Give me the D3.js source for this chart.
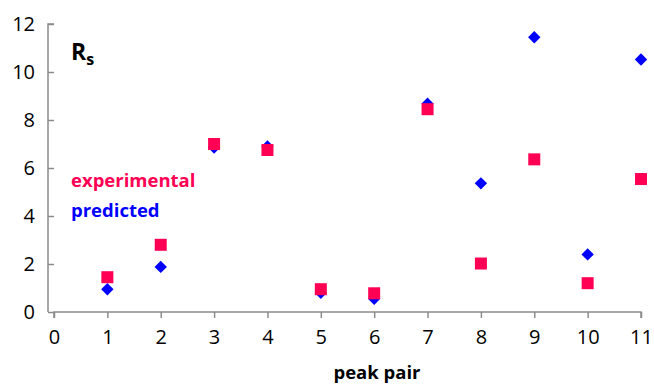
<!DOCTYPE html>
<html><head><meta charset="utf-8">
<script src="https://cdn.jsdelivr.net/npm/d3@7"></script>
<style>body{margin:0;background:#fff}svg{display:block}</style>
</head><body>
<script>
const peakPairs = [1,2,3,4,5,6,7,8,9,10,11];
const experimental = [1.45,2.8,7.0,6.75,0.95,0.78,8.45,2.02,6.36,1.2,5.54];
const predicted = [0.95,1.88,6.85,6.9,0.8,0.55,8.68,5.36,11.45,2.4,10.52];
const xTicks = [0,1,2,3,4,5,6,7,8,9,10,11];
const yTicks = [0,2,4,6,8,10,12];

const W=654,H=389;
const svg=d3.select("body").append("svg").attr("width",W).attr("height",H);
const x=d3.scaleLinear().domain([0,11]).range([54,641]);
const y=d3.scaleLinear().domain([0,12]).range([312,24]);
const axisColor="#8c8c8c";
const font="'Open Sans', sans-serif";

const gx=svg.append("g").attr("transform",`translate(0,${y(0)})`)
  .call(d3.axisBottom(x).tickValues(xTicks).tickSize(6).tickSizeOuter(0).tickPadding(12));
const gy=svg.append("g").attr("transform",`translate(${x(0)},0)`)
  .call(d3.axisLeft(y).tickValues(yTicks).tickSize(6).tickSizeOuter(0).tickPadding(13));
[gx,gy].forEach(g=>{
  g.select(".domain").attr("stroke",axisColor).attr("stroke-width",1.5);
  g.selectAll(".tick line").attr("stroke",axisColor).attr("stroke-width",1.5);
  g.selectAll(".tick text").attr("fill","#000").style("font-family",font).style("font-size","20px");
});
gy.select(".domain").attr("d",`M0,${y(12)}H-6V${y(0)}`);
gx.select(".domain").attr("d",`M${x(0)},6V0H${x(11)}V6`);

const ptsE=peakPairs.map((p,i)=>({p,v:experimental[i]}));
const ptsP=peakPairs.map((p,i)=>({p,v:predicted[i]}));

svg.append("g").selectAll("path").data(ptsP).join("path")
  .attr("d",d3.symbol(d3.symbolDiamond2,98))
  .attr("transform",d=>`translate(${x(d.p)},${y(d.v)})`)
  .attr("fill","#0000ff");
svg.append("g").selectAll("rect").data(ptsE).join("rect")
  .attr("x",d=>x(d.p)-6).attr("y",d=>y(d.v)-6)
  .attr("width",12).attr("height",12).attr("fill","#ff0055");

svg.append("text").attr("x",71).attr("y",187).attr("fill","#ff0055")
  .style("font-family",font).style("font-weight","bold").style("font-size","18.5px").text("experimental");
svg.append("text").attr("x",71).attr("y",217).attr("fill","#0000ff")
  .style("font-family",font).style("font-weight","bold").style("font-size","18.5px").text("predicted");

const rs=svg.append("text").attr("x",71).attr("y",60)
  .style("font-family",font).style("font-weight","bold").style("font-size","23px").attr("fill","#000");
rs.append("tspan").text("R");
rs.append("tspan").attr("dy",5).style("font-size","16px").text("s");

svg.append("text").attr("x",377).attr("y",379).attr("text-anchor","middle")
  .style("font-family",font).style("font-weight","bold").style("font-size","18.5px").text("peak pair");
</script>
</body></html>
